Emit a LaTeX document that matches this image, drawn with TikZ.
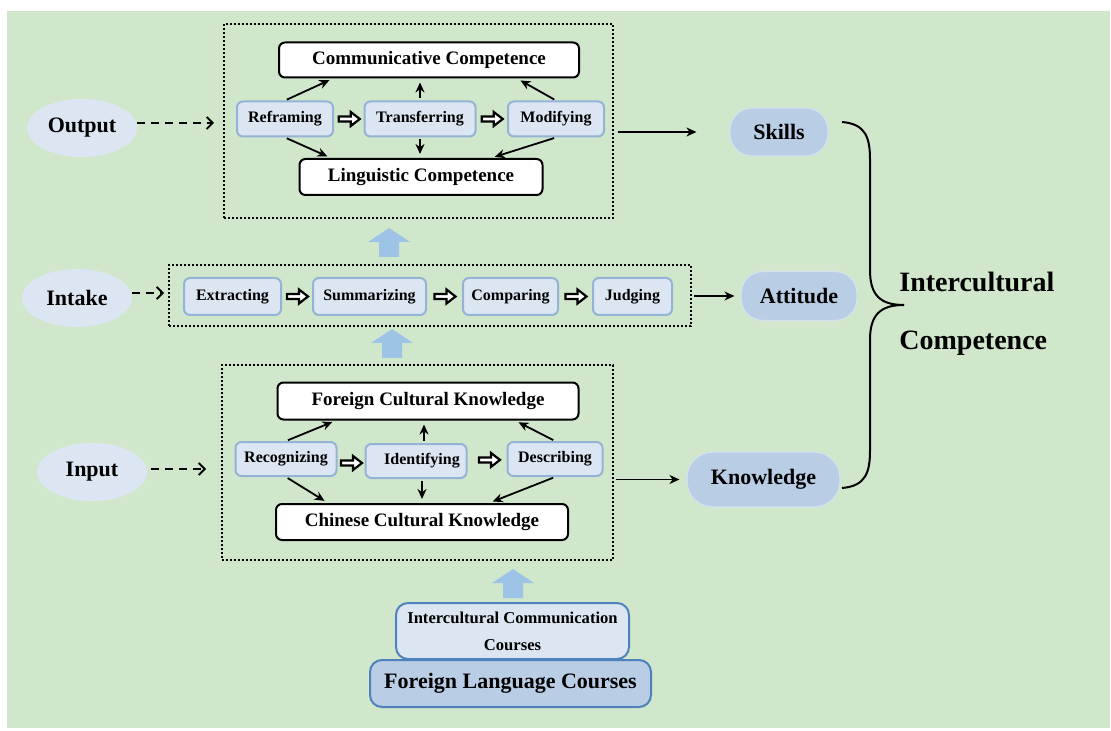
\documentclass[tikz,border=0pt]{standalone}
\usepackage{fontspec}
\setmainfont{Liberation Serif}
\usetikzlibrary{arrows.meta,shapes.geometric,calc}

\definecolor{bggreen}{RGB}{208,231,203}
\definecolor{paleblue}{RGB}{220,230,242}
\definecolor{edgeblue}{RGB}{149,179,215}
\definecolor{pillblue}{RGB}{185,205,229}
\definecolor{deepblue}{RGB}{79,129,189}
\definecolor{liftblue}{RGB}{157,195,230}

\tikzset{
  stage/.style={ellipse,fill=paleblue,minimum width=55pt,minimum height=29pt,inner sep=0pt,
    font=\bfseries\fontsize{11}{13}\selectfont},
  dotbox/.style={draw,line width=1pt,dash pattern=on 1pt off 1pt,inner sep=0pt},
  compbox/.style={draw,fill=white,line width=1pt,rounded corners=3pt,minimum height=17.5pt,inner sep=0pt,
    font=\bfseries\fontsize{9.5}{11}\selectfont},
  procbox/.style={draw=edgeblue,fill=paleblue,line width=1pt,rounded corners=3pt,minimum height=17.5pt,inner sep=0pt,
    font=\bfseries\fontsize{8}{10}\selectfont},
  pill/.style={fill=pillblue,draw=pillblue!60!white,line width=0.6pt,rounded corners=11pt,inner sep=0pt,
    font=\bfseries\fontsize{11}{13}\selectfont},
  arr/.style={-{Stealth[length=5pt,width=4.5pt]},line width=0.9pt},
  dasharr/.style={->,>={Straight Barb[length=3pt]},line width=0.9pt,dash pattern=on 4pt off 3pt},
  hollowarr/.pic={\draw[line width=1.1pt,fill=white,line join=miter]
    (-10,-2.5) -- (2,-2.5) -- (2,-7) -- (11,0) -- (2,7) -- (2,2.5) -- (-10,2.5) -- cycle;},
  uparrow/.pic={\fill[liftblue] (-10,0) -- (-10,-15) -- (-21,-15) -- (0,-29) -- (21,-15) -- (10,-15) -- (10,0) -- cycle;}
}

\begin{document}
\begin{tikzpicture}[x=0.5pt,y=-0.5pt]
  \useasboundingbox (0,0) rectangle (1111,731);
  \fill[bggreen] (7,11) rectangle (1110,728);

  % output level
  \node[dotbox,minimum width=194.5pt,minimum height=97pt] (outbox) at (418.5,121) {};
  \node[compbox,minimum width=150pt] (comm) at (429,60) {Communicative Competence};
  \node[compbox,minimum width=121.5pt,minimum height=18pt] (ling) at (421,177) {Linguistic Competence};
  \node[procbox,minimum width=48pt] (refr) at (285,119) {Reframing};
  \node[procbox,minimum width=55.5pt] (trans) at (420,119) {Transferring};
  \node[procbox,minimum width=48pt] (modif) at (556,119) {Modifying};
  \pic at ($(refr.east)!0.5!(trans.west)$) {hollowarr};
  \pic at ($(trans.east)!0.5!(modif.west)$) {hollowarr};
  \draw[arr,shorten <=1pt,shorten >=2pt] (refr.north) -- ([xshift=-48pt]comm.south);
  \draw[arr,shorten <=1pt,shorten >=2pt] (trans.north) -- (trans.north |- comm.south);
  \draw[arr,shorten <=1pt,shorten >=2pt] (modif.north) -- ([xshift=44pt]comm.south);
  \draw[arr,shorten <=1pt,shorten >=2pt] (refr.south) -- ([xshift=-45pt]ling.north);
  \draw[arr,shorten <=1pt,shorten >=2pt] (trans.south) -- (trans.south |- ling.north);
  \draw[arr,shorten <=1pt,shorten >=2pt] (modif.south) -- ([xshift=35pt]ling.north);

  % intake level
  \node[dotbox,minimum width=261pt,minimum height=30.5pt] (midbox) at (430,295.5) {};
  \node[procbox,minimum width=48.5pt,minimum height=18.5pt] (extr) at (232.5,296.5) {Extracting};
  \node[procbox,minimum width=56.5pt,minimum height=18.5pt] (summ) at (369.5,296.5) {Summarizing};
  \node[procbox,minimum width=47.5pt,minimum height=18.5pt] (comp) at (510.5,296.5) {Comparing};
  \node[procbox,minimum width=39.5pt,minimum height=18.5pt] (judg) at (632.5,296.5) {Judging};
  \pic at ($(extr.east)!0.5!(summ.west)$) {hollowarr};
  \pic at ($(summ.east)!0.5!(comp.west)$) {hollowarr};
  \pic at ($(comp.east)!0.5!(judg.west)$) {hollowarr};

  % input level
  \node[dotbox,minimum width=195.5pt,minimum height=97.5pt] (botbox) at (417.5,462.5) {};
  \node[compbox,minimum width=150.5pt,minimum height=18.5pt] (fck) at (428,401) {Foreign Cultural Knowledge};
  \node[compbox,minimum width=146pt,minimum height=18pt] (cck) at (422,522) {Chinese Cultural Knowledge};
  \node[procbox,minimum width=50.5pt,minimum height=17pt] (recog) at (286,459) {Recognizing};
  \node[procbox,minimum width=50.5pt,minimum height=17pt] (ident) at (416,461) {\hspace{6pt}Identifying};
  \node[procbox,minimum width=47.5pt,minimum height=17pt] (descr) at (555,459) {Describing};
  \pic at ($(recog.east)!0.5!(ident.west)+(0,3)$) {hollowarr};
  \pic at ($(ident.east)!0.55!(descr.west)$) {hollowarr};
  \draw[arr,shorten <=1pt,shorten >=2pt] (recog.north) -- ([xshift=-46pt]fck.south);
  \draw[arr,shorten <=1pt,shorten >=2pt] ([xshift=-2pt]fck.south |- ident.north) -- ([xshift=-2pt]fck.south);
  \draw[arr,shorten <=1pt,shorten >=2pt] (descr.north) -- ([xshift=43.5pt]fck.south);
  \draw[arr,shorten <=1pt,shorten >=2pt] (recog.south) -- ([xshift=-47pt]cck.north);
  \draw[arr,shorten <=1pt,shorten >=2pt] (cck.north |- ident.south) -- (cck.north);
  \draw[arr,shorten <=1pt,shorten >=2pt] (descr.south) -- ([xshift=33.5pt]cck.north);

  % stages on the left
  \node[stage] (output) at (82,128) {Output};
  \node[stage] (intake) at (77,298) {Intake};
  \node[stage] (input) at (92,472) {Input};
  \draw[dasharr,shorten <=0pt,shorten >=4.5pt] ([yshift=2.5pt]output.east) -- ([yshift=2.5pt]outbox.west |- output.east);
  \draw[dasharr,shorten >=2pt] ([yshift=2.5pt]intake.east) -- ([yshift=2.5pt]midbox.west |- intake.east);
  \draw[dasharr,shorten <=2pt,shorten >=7.5pt] ([yshift=1.5pt]input.east) -- ([yshift=1.5pt]botbox.west |- input.east);

  % lifting arrows
  \pic at (389,257) {uparrow};
  \pic at (392,358) {uparrow};
  \pic at (513,598) {uparrow};

  % courses
  \node[draw=deepblue,fill=paleblue,line width=1pt,rounded corners=6pt,minimum width=116.5pt,minimum height=28pt,
    inner sep=0pt,align=center,font=\bfseries\fontsize{8.3}{13.5}\selectfont] (icc) at (512.5,631) {Intercultural Communication\\Courses};
  \node[draw=deepblue,fill=pillblue,line width=1pt,rounded corners=6pt,minimum width=140.5pt,minimum height=23.5pt,
    inner sep=0pt,font=\bfseries\fontsize{11}{13}\selectfont] (flc) at (510.5,683.5) {Foreign Language Courses};

  % components
  \node[pill,minimum width=49pt,minimum height=24pt] (skills) at (779,132) {Skills};
  \node[pill,minimum width=58pt,minimum height=24.5pt] (attitude) at (799,296) {Attitude};
  \node[pill,minimum width=76.5pt,minimum height=27.5pt,rounded corners=13pt] (knowledge) at (763.5,479.5) {Knowledge};
  \draw[arr,shorten <=2pt,shorten >=16.5pt] (outbox.east |- skills.west) -- (skills.west);
  \draw[arr,shorten <=1pt,shorten >=3pt] (midbox.east |- attitude.west) -- (attitude.west);
  \draw[arr,shorten <=1pt,shorten >=3.5pt] (botbox.east |- knowledge.west) -- (knowledge.west);

  % brace
  \coordinate (bracetip) at (904,305);
  \draw[line width=1pt] (842,122) .. controls (866,124) and (870,138) .. (870,160) -- (870,270)
    .. controls (870,295) and (880,305) .. (bracetip);
  \draw[line width=1pt] (bracetip) .. controls (880,305) and (870,315) .. (870,340) -- (870,450)
    .. controls (870,472) and (866,486) .. (842,488);
  \node[anchor=base west,inner sep=0pt,font=\bfseries\fontsize{14}{16}\selectfont] (ictop) at (899,292) {Intercultural};
  \node[anchor=base west,inner sep=0pt,font=\bfseries\fontsize{14}{16}\selectfont] (icbot) at (899,350) {Competence};
\end{tikzpicture}
\end{document}
